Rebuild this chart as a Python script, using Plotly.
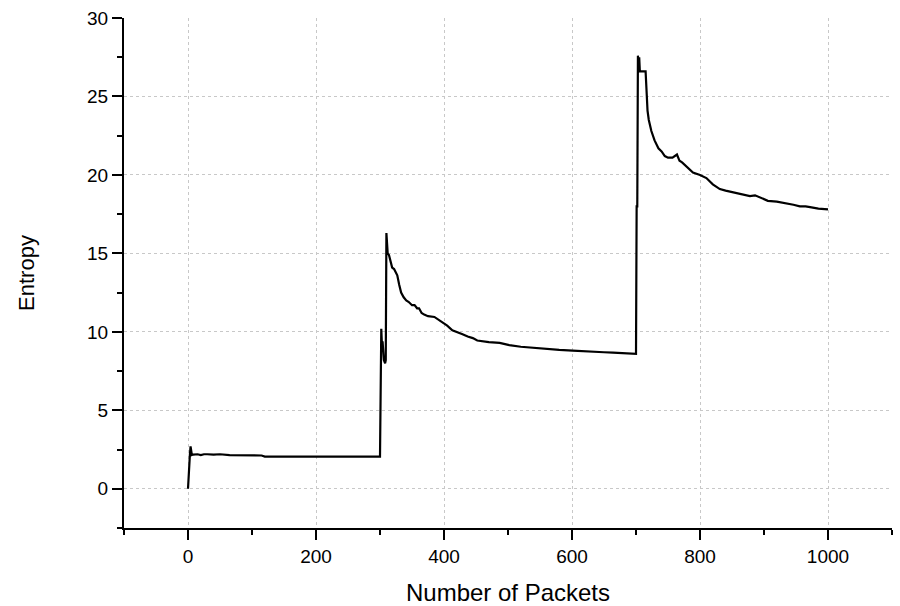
import plotly.graph_objects as go

packets = [0, 2, 3, 4, 5, 6, 8, 15, 20, 25, 30, 40, 50, 60, 65, 115, 120, 300,
           302, 303, 304, 305, 306, 308, 309, 310, 311, 312, 314, 316, 319, 322,
           327, 330, 333, 337, 341, 345, 350, 354, 358, 361, 365, 369, 375, 385,
           390, 397, 405, 413, 420, 429, 437, 445, 452, 460, 470, 487, 502, 520,
           538, 560, 580, 601, 628, 650, 664, 680, 699, 700,
           701, 702, 703, 704, 705, 706, 715, 716, 718, 720, 724, 729, 735, 740,
           745, 750, 757, 764, 768, 772, 780, 789, 800, 810, 820, 831, 840, 851,
           865, 878, 886, 894, 906, 920, 936, 946, 956, 965, 972, 985, 1000]

entropy = [0.0, 2.1, 2.2, 2.7, 2.2, 2.15, 2.18, 2.2, 2.15, 2.2, 2.2, 2.17, 2.2, 2.18, 2.15, 2.12, 2.05, 2.05,
           10.2, 9.2, 9.4, 8.8, 8.2, 8.0, 8.2, 16.3, 15.2, 15.0, 14.9, 14.5, 14.1, 14.0,
           13.6, 13.0, 12.5, 12.2, 12.0, 11.9, 11.7, 11.7, 11.5, 11.5, 11.2, 11.1, 11.0, 10.95,
           10.8, 10.6, 10.4, 10.1, 10.0, 9.85, 9.7, 9.6, 9.45, 9.4, 9.35, 9.3, 9.15, 9.05,
           8.98, 8.9, 8.85, 8.8, 8.72, 8.7, 8.67, 8.63, 8.6, 8.6,
           18.0, 18.0, 27.6, 26.8, 27.5, 26.6, 26.6, 25.5, 24.1, 23.5, 22.8, 22.2, 21.7, 21.5,
           21.2, 21.1, 21.1, 21.3, 20.9, 20.8, 20.5, 20.15, 20.0, 19.8, 19.4, 19.1, 19.0, 18.9,
           18.75, 18.65, 18.7, 18.55, 18.35, 18.3, 18.2, 18.1, 18.0, 18.0, 17.95, 17.85, 17.8]

x_ticks = [0, 200, 400, 600, 800, 1000]
y_ticks = [0, 5, 10, 15, 20, 25, 30]

FONT = "Liberation Sans, Arial, sans-serif"

fig = go.Figure()
fig.add_trace(go.Scatter(x=packets, y=entropy, mode="lines",
                         line=dict(color="black", width=2.2), showlegend=False))

grid = dict(showgrid=True, gridcolor="#c8c8c8", gridwidth=1, griddash="3px,3px")
fig.update_xaxes(range=[-100, 1100], tickvals=x_ticks, ticktext=[str(v) for v in x_ticks],
                 ticks="outside", ticklen=10, tickwidth=2, tickcolor="black",
                 showline=True, linecolor="black", linewidth=2, zeroline=False,
                 automargin=False,
                 minor=dict(dtick=100, tick0=0, ticks="outside", ticklen=5, tickwidth=2,
                            tickcolor="black", showgrid=False),
                 tickfont=dict(family=FONT, size=19, color="black"),
                 title=dict(text="Number of Packets", font=dict(family=FONT, size=24, color="black"),
                            standoff=22),
                 **grid)
fig.update_yaxes(range=[-2.5, 30], tickvals=y_ticks, ticktext=[str(v) for v in y_ticks],
                 ticks="outside", ticklen=10, tickwidth=2, tickcolor="black",
                 showline=True, linecolor="black", linewidth=2, zeroline=False,
                 automargin=False,
                 minor=dict(dtick=2.5, tick0=0, ticks="outside", ticklen=5, tickwidth=2,
                            tickcolor="black", showgrid=False),
                 tickfont=dict(family=FONT, size=19, color="black"),
                 title=dict(text="Entropy", font=dict(family=FONT, size=22, color="black"),
                            standoff=46),
                 **grid)
fig.update_layout(width=900, height=606, margin=dict(l=124, r=8, t=18, b=78),
                  plot_bgcolor="white", paper_bgcolor="white")
fig.write_html("out.html", config={"displayModeBar": False},
               post_script="document.body.style.margin='0';document.body.style.padding='0';")
